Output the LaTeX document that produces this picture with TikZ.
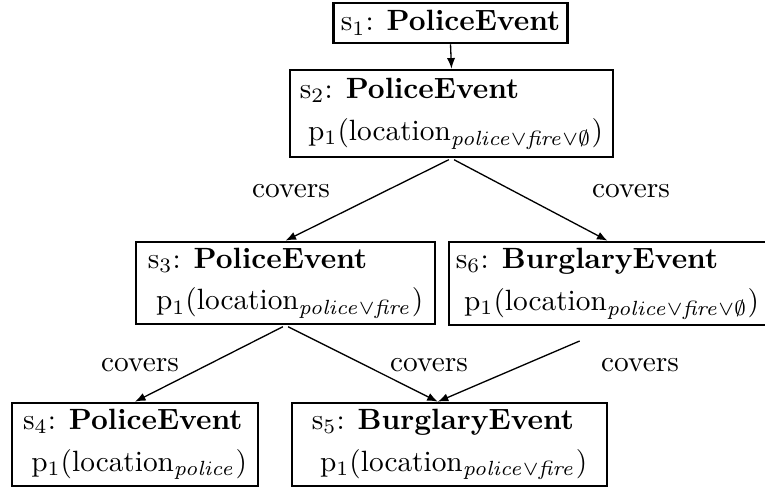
\documentclass[tikz,border=0pt]{standalone}
\usetikzlibrary{arrows.meta}
\newcommand{\ploc}[1]{p$_1$(location$_{#1}$)}
\begin{document}
\begin{tikzpicture}[x=0.341pt,y=-0.341pt,
  statebox/.style={draw, line width=0.9pt, inner xsep=2.4pt, inner ysep=0pt,
    align=left, font=\fontsize{10}{14.3}\selectfont},
  covlabel/.style={font=\fontsize{10}{12}\selectfont, inner sep=0pt},
  cover/.style={-{Latex[length=3.6pt,width=2.8pt]}, line width=0.45pt}]
\useasboundingbox (0,0) rectangle (765,489);

% states of the lattice
\node[statebox, minimum width=78.8pt, minimum height=13.6pt] (s1) at (450.5,23)
  {s$_1$: \textbf{PoliceEvent}};
\node[statebox, minimum width=110.1pt, minimum height=29.7pt] (s2) at (451.5,113.5)
  {s$_2$: \textbf{PoliceEvent}\\\hspace*{2.8pt}\ploc{\mathit{police}\vee\mathit{fire}\vee\emptyset}};
\node[statebox, minimum width=102pt, minimum height=28pt] (s3) at (285.5,283)
  {s$_3$: \textbf{PoliceEvent}\\\hspace*{2.8pt}\ploc{\mathit{police}\vee\mathit{fire}}};
\node[statebox, minimum width=106pt, minimum height=28.3pt] (s6) at (607.5,283.5)
  {s$_6$: \textbf{BurglaryEvent}\\\hspace*{2.8pt}\ploc{\mathit{police}\vee\mathit{fire}\vee\emptyset}};
\node[statebox, minimum width=83.9pt, minimum height=28.3pt] (s4) at (135,444.5)
  {s$_4$: \textbf{PoliceEvent}\\\hspace*{2.8pt}\ploc{\mathit{police}}};
\node[statebox, minimum width=107.4pt, minimum height=28.3pt] (s5) at (449.5,444.5)
  {s$_5$: \textbf{BurglaryEvent}\\\hspace*{2.8pt}\ploc{\mathit{police}\vee\mathit{fire}}};

% covering relations
\coordinate (s5in) at ([xshift=-4pt]s5.north);
\coordinate (s6out) at ([xshift=-9.5pt,yshift=-5pt]s6.south);
\draw[cover] (s1.south) -- (s2.north);
\draw[cover, shorten <=1pt] (s2.south) -- (s3.north);
\draw[cover, shorten <=1pt] (s2.south) -- (s6.north);
\draw[cover, shorten <=1pt] (s3.south) -- (s4.north);
\draw[cover, shorten <=1pt] (s3.south) -- (s5in);
\draw[cover] (s6out) -- (s5in);

% edge labels
\node[covlabel] (c23) at (291,191) {covers};
\node[covlabel] (c26) at (631,191) {covers};
\node[covlabel] (c34) at (140,365) {covers};
\node[covlabel] (c35) at (429,365) {covers};
\node[covlabel] (c65) at (640,365) {covers};
\end{tikzpicture}
\end{document}
